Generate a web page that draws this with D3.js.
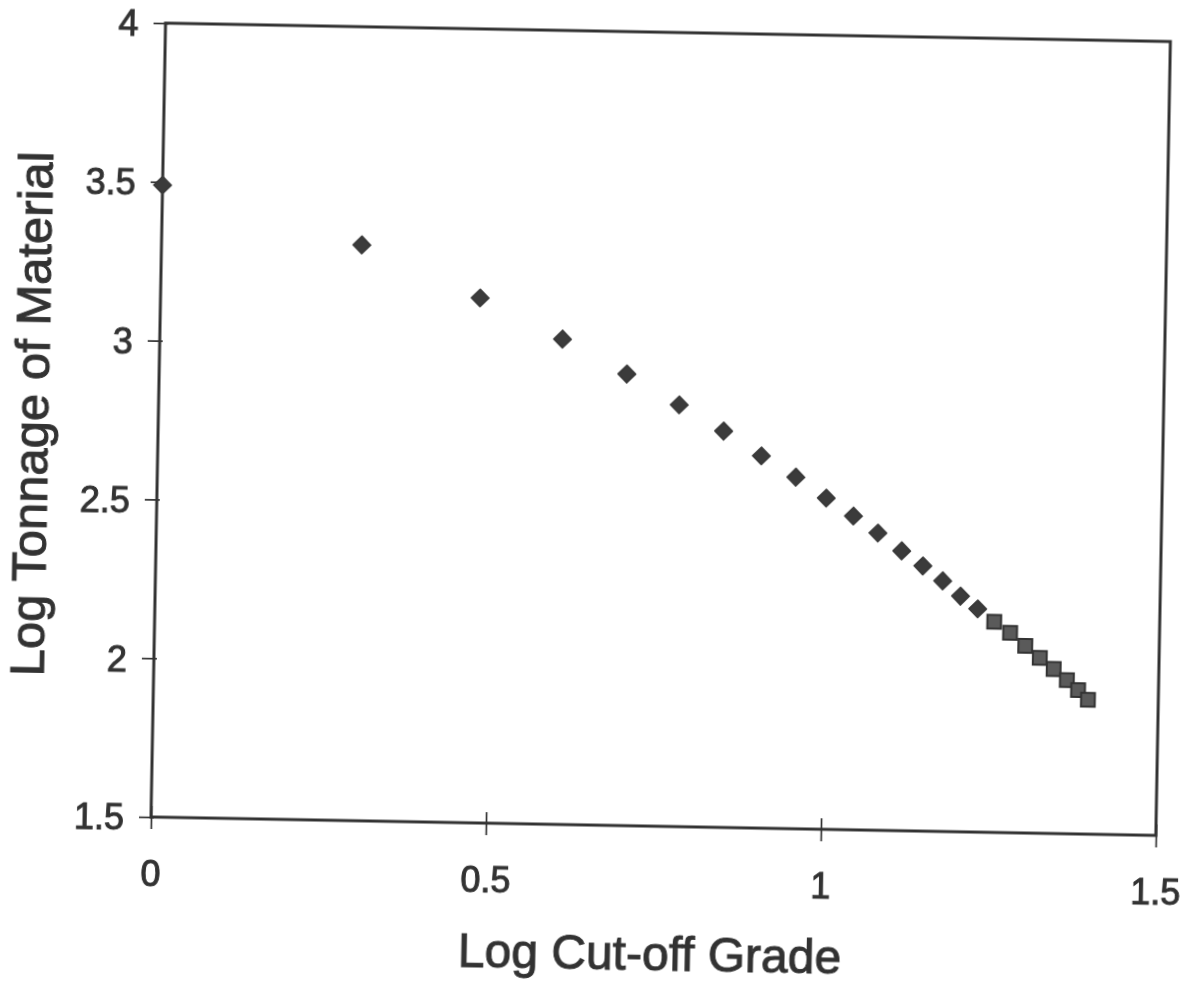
<!DOCTYPE html>
<html>
<head>
<meta charset="utf-8">
<script src="https://cdn.jsdelivr.net/npm/d3@7/dist/d3.min.js"></script>
<style>
  html, body { margin: 0; padding: 0; background: #fff; }
  svg { display: block; }
  text { font-family: "Liberation Sans", Arial, sans-serif; fill: #333; stroke: #333; stroke-width: 1px; }
</style>
</head>
<body>
<svg id="chart" width="1183" height="984"></svg>
<script>
// Log cut-off grade vs. log tonnage (grade–tonnage curve)
const gradeLog = [0, 0.299, 0.477, 0.601, 0.698, 0.777, 0.844, 0.901, 0.953, 0.999,
                  1.040, 1.077, 1.113, 1.145, 1.175, 1.202, 1.228];
const tonnageLog = [3.49, 3.313, 3.153, 3.028, 2.922, 2.828, 2.748, 2.672, 2.607, 2.543,
                    2.488, 2.436, 2.381, 2.335, 2.289, 2.242, 2.203];

// Upper grade range, drawn with square markers
const gradeLogHigh = [1.253, 1.277, 1.300, 1.322, 1.343, 1.363, 1.380, 1.395];
const tonnageLogHigh = [2.163, 2.129, 2.089, 2.052, 2.018, 1.984, 1.953, 1.923];

const xTickValues = [0, 0.5, 1, 1.5];
const yTickValues = [1.5, 2, 2.5, 3, 3.5, 4];
const xTitle = "Log Cut-off Grade";
const yTitle = "Log Tonnage of Material";

const svg = d3.select("#chart");
const plotLeft = 151, plotRight = 1156, plotTop = 23, plotBottom = 817;

const x = d3.scaleLinear().domain([0, 1.5]).range([plotLeft, plotRight]);
const y = d3.scaleLinear().domain([1.5, 4]).range([plotBottom, plotTop]);

// Soft print edge
const defs = svg.append("defs");
defs.append("filter").attr("id", "soft")
  .append("feGaussianBlur").attr("stdDeviation", 0.45);

// The printed page sits slightly skewed
const g = svg.append("g")
  .attr("transform", `rotate(1.05, ${plotLeft}, ${plotBottom})`)
  .attr("filter", "url(#soft)");

// Frame
g.append("rect")
  .attr("x", plotLeft).attr("y", plotTop)
  .attr("width", plotRight - plotLeft).attr("height", plotBottom - plotTop)
  .attr("fill", "none").attr("stroke", "#333").attr("stroke-width", 3);

// X axis (cross ticks)
const xAxis = d3.axisBottom(x).tickValues(xTickValues).tickSize(12).tickPadding(0)
  .tickFormat(d3.format("~g"));
const xg = g.append("g").attr("transform", `translate(0,${plotBottom})`).call(xAxis);
xg.select(".domain").remove();
xg.selectAll(".tick line").attr("y1", -11).attr("y2", 12)
  .attr("stroke", "#333").attr("stroke-width", 1.7);
xg.selectAll(".tick text").attr("y", 69).attr("dy", 0)
  .style("font-size", "36px").style("fill", "#333");

// Y axis
const yAxis = d3.axisLeft(y).tickValues(yTickValues).tickSize(12).tickPadding(0)
  .tickFormat(d3.format("~g"));
const yg = g.append("g").attr("transform", `translate(${plotLeft},0)`).call(yAxis);
yg.select(".domain").remove();
yg.selectAll(".tick line").attr("x1", -12).attr("x2", 3)
  .attr("stroke", "#333").attr("stroke-width", 1.7);
yg.selectAll(".tick text").attr("x", -27).attr("dy", "0.36em")
  .style("font-size", "36px").style("fill", "#333");

// Axis titles
g.append("text")
  .attr("x", 652).attr("y", 961)
  .attr("text-anchor", "middle")
  .style("font-size", "48px")
  .text(xTitle);

g.append("text")
  .attr("transform", `translate(41,416) rotate(-90)`)
  .attr("text-anchor", "middle")
  .style("font-size", "49px")
  .text(yTitle);

// Diamond markers
const lowPts = gradeLog.map((v, i) => [v, tonnageLog[i]]);
g.append("g").selectAll("path").data(lowPts).enter().append("path")
  .attr("d", d3.symbol().type(d3.symbolSquare).size(155))
  .attr("transform", d => `translate(${x(d[0])},${y(d[1])}) rotate(45)`)
  .attr("fill", "#3a3a3a").attr("stroke", "#3a3a3a")
  .attr("stroke-width", 1.5).attr("stroke-linejoin", "round");

// Square markers
const highPts = gradeLogHigh.map((v, i) => [v, tonnageLogHigh[i]]);
g.append("g").selectAll("path").data(highPts).enter().append("path")
  .attr("d", d3.symbol().type(d3.symbolSquare).size(190))
  .attr("transform", d => `translate(${x(d[0])},${y(d[1])})`)
  .attr("fill", "#5a5a5a").attr("stroke", "#333")
  .attr("stroke-width", 2);
</script>
</body>
</html>
